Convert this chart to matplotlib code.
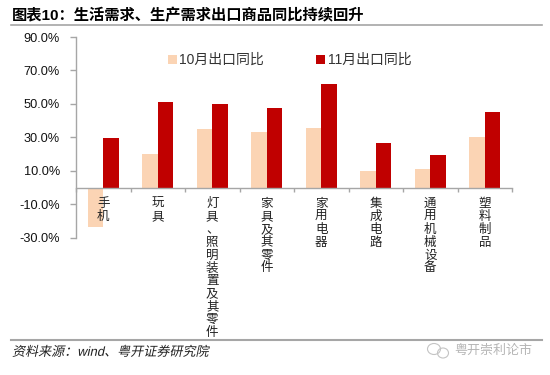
import matplotlib
matplotlib.use('Agg')
import matplotlib.pyplot as plt
import matplotlib.patheffects as pe
from matplotlib.patches import Ellipse
from matplotlib.transforms import Affine2D
import numpy as np

plt.rcParams['font.family'] = ['Liberation Sans', 'Noto Sans CJK SC', 'DejaVu Sans']

categories = ['手机', '玩具', '灯具、照明装置及其零件', '家具及其零件', '家用电器', '集成电路', '通用机械设备', '塑料制品']
oct_values = [-23.5, 20.0, 34.8, 33.0, 35.6, 10.0, 11.0, 30.2]
nov_values = [29.5, 51.0, 49.8, 47.4, 62.0, 26.4, 19.4, 45.4]
yticks = [-30, -10, 10, 30, 50, 70, 90]

W, H = 550, 375
GREY = '#A6A6A6'


# Sheared text for the source line, the CJK fonts have no italic
class Slant(pe.AbstractPathEffect):
    def draw_path(self, renderer, gc, tpath, affine, rgbFace=None):
        renderer.draw_path(gc, tpath, Affine2D().skew_deg(12, 0) + affine, rgbFace)


def fx(px):
    return px / W


def fy(px):
    return 1 - px / H


fig = plt.figure(figsize=(5.5, 3.75), dpi=100)
ax = fig.add_axes([fx(76), fy(237.7), fx(512) - fx(76), fy(37) - fy(237.7)])

x = np.arange(len(categories)) + 0.5
width = 0.287
ax.bar(x - width / 2, oct_values, width, color='#FBD4B4', label='10月出口同比')
ax.bar(x + width / 2, nov_values, width, color='#C00000', label='11月出口同比')

ax.set_xlim(0, len(categories))
ax.set_ylim(-30, 90)
for s in ['top', 'right']:
    ax.spines[s].set_visible(False)
ax.spines['bottom'].set_position(('data', 0))
ax.spines['bottom'].set_color(GREY)
ax.spines['left'].set_color(GREY)
ax.spines['bottom'].set_linewidth(1.0)
ax.spines['left'].set_linewidth(1.0)

ax.set_yticks(yticks)
ax.set_yticklabels(['%.1f%%' % v for v in yticks], fontsize=9.2, color='#111111')
ax.tick_params(axis='y', length=4.5, width=1.0, color=GREY, pad=7)

ax.set_xticks(np.arange(len(categories) + 1))
ax.set_xticklabels([])
ax.set_xticks(x, ['\n'.join(c) for c in categories], minor=True)
ax.tick_params(axis='x', which='major', length=3, width=1.0, color=GREY)
ax.tick_params(axis='x', which='minor', length=0, pad=7, labelsize=9, labelcolor='#222222')
for label in ax.get_xticklabels(minor=True):
    label.set_fontfamily(['Noto Sans CJK SC'])
    label.set_linespacing(0.985)

ax.legend(loc='upper left', bbox_to_anchor=(fx(168), fy(53)), bbox_transform=fig.transFigure, ncol=2,
          frameon=False, fontsize=10, labelcolor='#333333', handlelength=0.62, handleheight=0.62,
          handletextpad=0.2, columnspacing=3.75, borderpad=0, borderaxespad=0)

fig.text(fx(12), fy(15.5), '图表10\uff1a生活需求、生产需求出口商品同比持续回升', fontsize=11, fontweight='bold',
         color='black', va='center', ha='left')
fig.add_artist(plt.Line2D([fx(11), fx(542)], [fy(25), fy(25)], color=GREY, lw=1.2))
fig.add_artist(plt.Line2D([fx(11), fx(542)], [fy(339.7), fy(339.7)], color=GREY, lw=1.5))

fig.text(fx(12), fy(352.5), '资料来源\uff1awind、粤开证券研究院', fontsize=9.4, color='#222222', va='center', ha='left',
         path_effects=[Slant()])

fig.text(fx(454), fy(351), '粤开崇利论市', fontsize=9.4, color='#B5B5B5', va='center', ha='left')
for cx, cy, w, h in [(434, 349, 13, 11), (443, 353, 11, 10)]:
    fig.add_artist(Ellipse((fx(cx), fy(cy)), w / W, h / H, transform=fig.transFigure, fill=False,
                           edgecolor='#C4C4C4', lw=0.8))

fig.savefig('out.png', dpi=100)
